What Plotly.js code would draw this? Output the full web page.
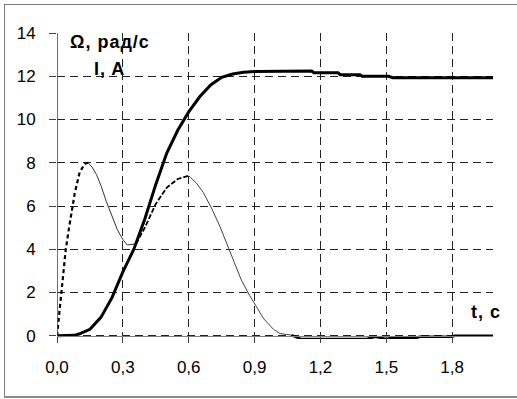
<!DOCTYPE html>
<html>
<head>
<meta charset="utf-8">
<script src="https://cdn.plot.ly/plotly-3.0.1.min.js"></script>
<style>
html, body { margin:0; padding:0; background:#fff; }
#chart { position:absolute; left:0; top:0; width:517px; height:399px; }
#frame { position:absolute; left:4px; top:4px; width:520px; height:391px;
  border-top:1px solid #7a7a7a; border-left:1px solid #7a7a7a; border-bottom:2px solid #8a8a8a;
  pointer-events:none; }
</style>
</head>
<body>
<div id="chart"></div>
<div id="frame"></div>
<script>
// Speed Ω (rad/s) vs time t (s)
var tOmega = [0, 0.05, 0.08, 0.1, 0.15, 0.2, 0.25, 0.3, 0.35, 0.4, 0.45, 0.5, 0.55, 0.6, 0.65, 0.7, 0.75, 0.8, 0.85, 0.9, 1.0, 1.1, 1.16, 1.17, 1.28, 1.29, 1.38, 1.39, 1.51, 1.53, 1.986];
var vOmega = [0, 0, 0.02, 0.08, 0.3, 0.85, 1.75, 2.95, 4.0, 5.4, 7.0, 8.45, 9.5, 10.35, 11.05, 11.6, 11.95, 12.1, 12.18, 12.22, 12.24, 12.24, 12.24, 12.16, 12.16, 12.07, 12.07, 12.0, 12.0, 11.93, 11.93];

// Current I (A) vs time t (s)
var tCurrent = [0, 0.01, 0.017, 0.031, 0.04, 0.055, 0.07, 0.081, 0.103, 0.126, 0.141,
                0.16, 0.18, 0.2, 0.225, 0.25, 0.275, 0.3, 0.32, 0.36,
                0.4, 0.45, 0.5, 0.55, 0.6,
                0.635, 0.666, 0.704, 0.742, 0.78, 0.805, 0.84, 0.878, 0.904, 0.942, 0.986, 1.016, 1.068,
                1.11, 1.41, 1.45, 1.5, 1.52, 1.64, 1.65, 1.8, 1.81, 1.986];
var vCurrent = [0, 1.0, 2.0, 3.35, 4.0, 5.0, 6.0, 6.6, 7.55, 7.95, 8.0,
                7.8, 7.45, 6.95, 6.2, 5.5, 4.9, 4.45, 4.2, 4.25,
                5.0, 6.1, 6.85, 7.25, 7.4,
                7.06, 6.63, 5.9, 5.06, 4.1, 3.4, 2.57, 1.85, 1.4, 0.78, 0.3, 0.1, 0.03,
                -0.15, -0.15, -0.05, -0.15, -0.1, -0.1, -0.05, -0.05, 0, 0];

var xTicks = [0, 0.3, 0.6, 0.9, 1.2, 1.5, 1.8];
var yTicks = [0, 2, 4, 6, 8, 10, 12, 14];

var labelOmega = "Ω, рад/с";
var labelI = "I, A";
var labelT = "t, c";

// style segments for the current curve (index ranges)
function seg(i0, i1) {
  return { x: tCurrent.slice(i0, i1 + 1), y: vCurrent.slice(i0, i1 + 1) };
}
var sA = seg(0, 10), sB = seg(10, 19), sC = seg(19, 24), sD = seg(24, 37), sE = seg(37, tCurrent.length - 1);

var traces = [
  { x: sA.x, y: sA.y, mode: 'lines', line: { color: '#000', width: 2.2, dash: '4px,3px' }, hoverinfo: 'skip' },
  { x: sB.x, y: sB.y, mode: 'lines', line: { color: '#333', width: 1 }, hoverinfo: 'skip' },
  { x: sC.x, y: sC.y, mode: 'lines', line: { color: '#000', width: 1.8, dash: '5px,2px' }, hoverinfo: 'skip' },
  { x: sD.x, y: sD.y, mode: 'lines', line: { color: '#444', width: 1 }, hoverinfo: 'skip' },
  { x: sE.x, y: sE.y, mode: 'lines', line: { color: '#000', width: 2.5 }, hoverinfo: 'skip' },
  { x: tOmega, y: vOmega, mode: 'lines', line: { color: '#000', width: 3 }, hoverinfo: 'skip' }
];

var yr = [-0.15, 14];
var layout = {
  width: 517, height: 399,
  margin: { l: 57, r: 24, t: 33, b: 60, pad: 0 },
  paper_bgcolor: '#fff', plot_bgcolor: '#fff',
  showlegend: false,
  separators: ',.',
  font: { family: 'Liberation Sans, Arial, sans-serif', size: 17, color: '#000' },
  xaxis: {
    range: [0, 1.986], tickvals: xTicks, tickformat: '.1f',
    anchor: 'free', position: 0.15 / 14.15,
    showline: true, linecolor: '#808080', linewidth: 1.5,
    ticks: 'outside', ticklen: 6, tickcolor: '#404040', tickwidth: 1,
    ticklabelstandoff: 9,
    showgrid: true, gridcolor: '#222', gridwidth: 1, griddash: '8px,5px',
    zeroline: false, fixedrange: true
  },
  yaxis: {
    range: yr, tickvals: yTicks,
    showline: false,
    ticks: 'outside', ticklen: 7, tickcolor: '#404040', tickwidth: 1,
    ticklabelstandoff: 10,
    showgrid: true, gridcolor: '#222', gridwidth: 1, griddash: '8px,5px',
    zeroline: false, fixedrange: true
  },
  shapes: [
    { type: 'line', xref: 'x', yref: 'y', x0: 0, x1: 0, y0: 0, y1: 14, line: { color: '#404040', width: 1.5 } }
  ],
  annotations: [
    { text: '<b>' + labelOmega + '</b>', xref: 'x', yref: 'y', x: 0.24, y: 13.6, showarrow: false, xanchor: 'center', yanchor: 'middle', font: { size: 18 } },
    { text: '<b>' + labelI + '</b>', xref: 'x', yref: 'y', x: 0.24, y: 12.35, showarrow: false, xanchor: 'center', yanchor: 'middle', font: { size: 18 } },
    { text: '<b>' + labelT + '</b>', xref: 'x', yref: 'y', x: 1.955, y: 1.09, showarrow: false, xanchor: 'center', yanchor: 'middle', font: { size: 18 } }
  ]
};

Plotly.newPlot('chart', traces, layout, { staticPlot: true, displayModeBar: false }).then(function () {
  document.querySelectorAll('.annotation-text').forEach(function (el) {
    el.style.letterSpacing = '1px';
  });
});
</script>
</body>
</html>
